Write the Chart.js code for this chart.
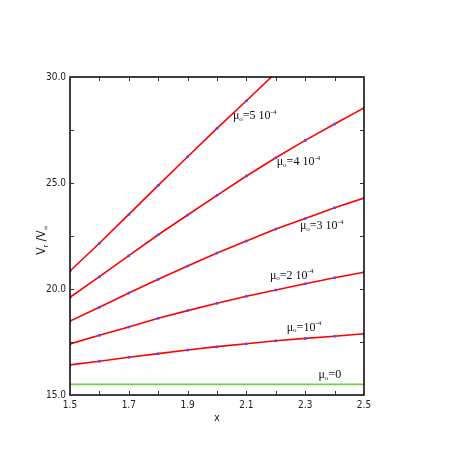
<!DOCTYPE html>
<html>
<head>
<meta charset="utf-8">
<script src="https://cdn.jsdelivr.net/npm/chart.js@4/dist/chart.umd.min.js"></script>
<style>
  html, body { margin: 0; padding: 0; background: #fff; }
  #wrap { width: 463px; height: 463px; }
</style>
</head>
<body>
<div id="wrap"><canvas id="myChart" width="463" height="463"></canvas></div>
<script>
// x positions (every 0.1)
const xValues = [1.5, 1.6, 1.7, 1.8, 1.9, 2.0, 2.1, 2.2, 2.3, 2.4, 2.5];

// Vr/Vinf for each mu_o
const mu0 = [15.5, 15.5, 15.5, 15.5, 15.5, 15.5, 15.5, 15.5, 15.5, 15.5, 15.5];
const mu1 = [16.42, 16.59, 16.78, 16.95, 17.12, 17.28, 17.42, 17.56, 17.67, 17.77, 17.89];
const mu2 = [17.41, 17.82, 18.21, 18.62, 18.98, 19.33, 19.66, 19.95, 20.25, 20.53, 20.79];
const mu3 = [18.49, 19.14, 19.81, 20.46, 21.08, 21.70, 22.26, 22.83, 23.33, 23.83, 24.29];
const mu4 = [19.61, 20.58, 21.57, 22.56, 23.49, 24.42, 25.33, 26.19, 27.01, 27.78, 28.54];
const mu5 = [20.85, 22.16, 23.52, 24.89, 26.24, 27.58, 28.88, 30.2]; // goes off the top after 2.2

const xTickLabels = ['1.5', '1.7', '1.9', '2.1', '2.3', '2.5'];
const yTickLabels = ['15.0', '20.0', '25.0', '30.0'];

// curve labels: mantissa text, exponent (or '' if none)
const curveNames = ['=5 10', '=4 10', '=3 10', '=2 10', '=10', '=0'];
const curveExps = ['-4', '-4', '-4', '-4', '-4', ''];

function pts(ys) {
    return ys.map((y, i) => ({x: xValues[i], y: y}));
}

function redLine(ys) {
    return {
        data: pts(ys),
        borderColor: '#ff0000',
        borderWidth: 1.6,
        pointRadius: 1.5,
        pointBackgroundColor: '#5a4cf0',
        pointBorderWidth: 0,
        tension: 0
    };
}

// where the labels sit, in data units (left edge, middle)
const labelPos = [
    [2.054, 28.16], [2.203, 26.0], [2.282, 22.97], [2.180, 20.63], [2.237, 18.19], [2.345, 15.94]
];

const SERIF = '"Liberation Serif", "DejaVu Serif", serif';
const SANS = '"Liberation Sans Narrow", "DejaVu Sans Condensed", "Liberation Sans", sans-serif';

// draws a row of pieces: {t, size, dy}
function richText(ctx, x, y, pieces, family) {
    let cx = x;
    pieces.forEach(p => {
        ctx.font = p.size + 'px ' + family;
        ctx.fillText(p.t, cx, y + (p.dy || 0));
        cx += ctx.measureText(p.t).width;
    });
}

const framePlugin = {
    id: 'frame',
    afterDraw(chart) {
        const ctx = chart.ctx;
        const a = chart.chartArea;
        const xs = chart.scales.x, ys = chart.scales.y;
        ctx.save();
        ctx.strokeStyle = '#000';
        ctx.lineWidth = 1.5;
        ctx.strokeRect(a.left, a.top, a.right - a.left, a.bottom - a.top);

        // inward ticks
        ctx.lineWidth = 1;
        ctx.strokeStyle = '#333';
        ctx.beginPath();
        xValues.forEach(v => {
            const px = Math.round(xs.getPixelForValue(v)) + 0.5;
            ctx.moveTo(px, a.bottom); ctx.lineTo(px, a.bottom - 4);
            ctx.moveTo(px, a.top); ctx.lineTo(px, a.top + 4);
        });
        for (let v = 15; v <= 30; v += 2.5) {
            const py = Math.round(ys.getPixelForValue(v)) + 0.5;
            ctx.moveTo(a.left, py); ctx.lineTo(a.left + 4, py);
            ctx.moveTo(a.right, py); ctx.lineTo(a.right - 4, py);
        }
        ctx.stroke();

        // curve labels
        ctx.fillStyle = '#111';
        ctx.textBaseline = 'middle';
        ctx.textAlign = 'left';
        labelPos.forEach((p, i) => {
            const px = xs.getPixelForValue(p[0]);
            const py = ys.getPixelForValue(p[1]);
            const pieces = [
                {t: 'μ', size: 12},
                {t: 'o', size: 7, dy: 3},
                {t: curveNames[i], size: 12}
            ];
            if (curveExps[i]) pieces.push({t: curveExps[i], size: 7, dy: -4});
            richText(ctx, px, py, pieces, SERIF);
        });

        // axis titles
        ctx.fillStyle = '#222';
        ctx.textAlign = 'center';
        ctx.font = '11px ' + SANS;
        ctx.fillText('x', (a.left + a.right) / 2, 418);

        ctx.translate(42, 240);
        ctx.rotate(-Math.PI / 2);
        ctx.textAlign = 'left';
        const yt = [
            {t: 'V', size: 12},
            {t: 'r', size: 7, dy: 4},
            {t: ' /V', size: 12},
            {t: '∞', size: 7, dy: 4}
        ];
        let w = 0;
        yt.forEach(p => { ctx.font = p.size + 'px ' + SANS; w += ctx.measureText(p.t).width; });
        richText(ctx, -w / 2, 0, yt, SANS);
        ctx.restore();
    }
};

new Chart(document.getElementById('myChart'), {
    type: 'line',
    data: {
        datasets: [
            {
                data: pts(mu0),
                borderColor: '#6fd04f',
                borderWidth: 1.6,
                pointRadius: 0,
                tension: 0
            },
            redLine(mu1),
            redLine(mu2),
            redLine(mu3),
            redLine(mu4),
            redLine(mu5)
        ]
    },
    options: {
        responsive: false,
        animation: false,
        devicePixelRatio: 1,
        layout: {padding: {top: 77, right: 99, left: 0, bottom: 0}},
        plugins: {
            legend: {display: false},
            tooltip: {enabled: false}
        },
        scales: {
            x: {
                type: 'linear',
                min: 1.5,
                max: 2.5,
                grid: {display: false, drawTicks: false},
                border: {display: false},
                afterFit(scale) { scale.height = 68; },
                afterBuildTicks(scale) {
                    scale.ticks = xTickLabels.map(t => ({value: parseFloat(t)}));
                },
                ticks: {
                    padding: 4,
                    color: '#222',
                    font: {family: SANS, size: 10},
                    maxRotation: 0,
                    autoSkip: false,
                    callback: (v) => xTickLabels.find(t => Math.abs(parseFloat(t) - v) < 1e-6) || ''
                }
            },
            y: {
                type: 'linear',
                min: 15,
                max: 30,
                grid: {display: false, drawTicks: false},
                border: {display: false},
                afterFit(scale) { scale.width = 70; },
                afterBuildTicks(scale) {
                    scale.ticks = yTickLabels.map(t => ({value: parseFloat(t)}));
                },
                ticks: {
                    padding: 4,
                    color: '#222',
                    font: {family: SANS, size: 10},
                    callback: (v) => yTickLabels.find(t => Math.abs(parseFloat(t) - v) < 1e-6) || ''
                }
            }
        }
    },
    plugins: [framePlugin]
});
</script>
</body>
</html>
